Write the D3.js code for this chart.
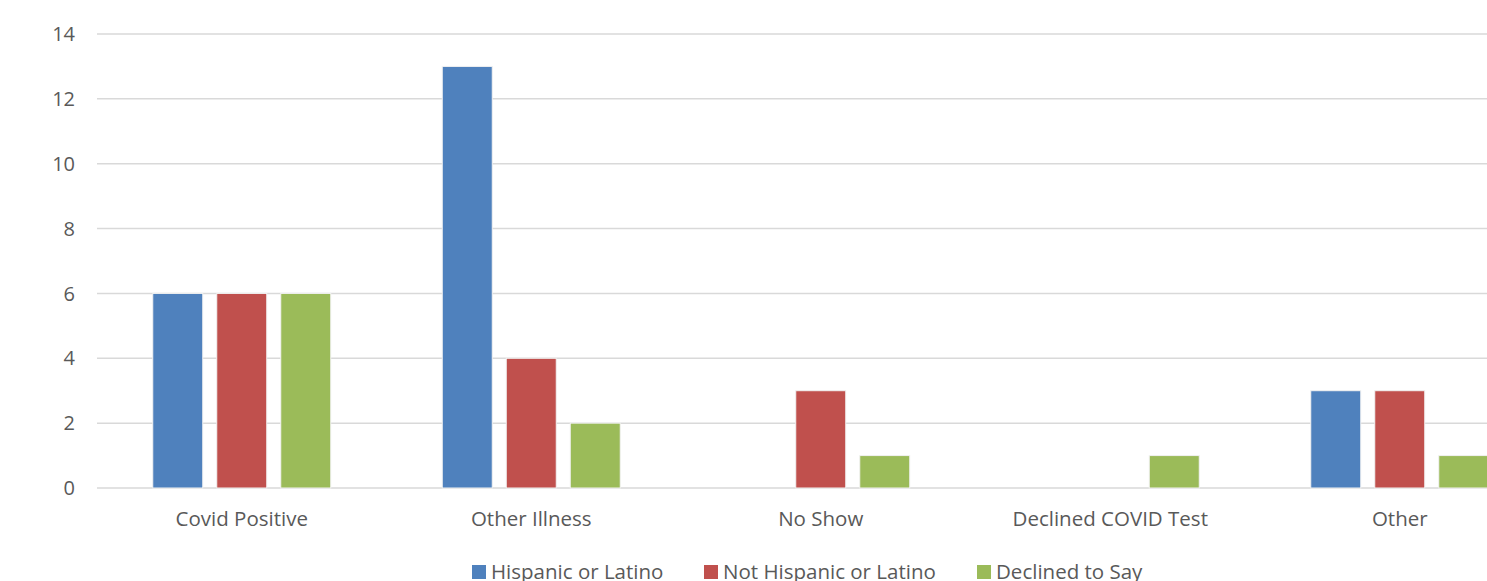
<!DOCTYPE html>
<html>
<head>
<meta charset="utf-8">
<script src="https://cdn.jsdelivr.net/npm/d3@7"></script>
<style>
  body { margin: 0; background: #fff; }
  text { font-family: "Open Sans", "Noto Sans", sans-serif; fill: #595959; }
</style>
</head>
<body>
<div id="chart"></div>
<script>
// chart values
var categories = ["Covid Positive", "Other Illness", "No Show", "Declined COVID Test", "Other"];
var seriesNames = ["Hispanic or Latino", "Not Hispanic or Latino", "Declined to Say"];
var hispanic = [6, 13, 0, 0, 3];
var notHispanic = [6, 4, 3, 0, 3];
var declined = [6, 2, 1, 1, 1];
var yTicks = [0, 2, 4, 6, 8, 10, 12, 14];
var colors = ["#4F81BD", "#C0504D", "#9BBB59"];

var width = 1487, height = 581;
var plotLeft = 97, plotTop = 34, plotBottom = 488;
var bandStep = 289.5;

var data = categories.map(function (c, i) {
    return { cat: c, values: [hispanic[i], notHispanic[i], declined[i]] };
});

var svg = d3.select("#chart").append("svg")
    .attr("width", width)
    .attr("height", height);

var x0 = d3.scaleBand()
    .domain(categories)
    .range([plotLeft, plotLeft + bandStep * categories.length])
    .padding(0);

var groupW = 178;
var x1 = d3.scaleBand()
    .domain(d3.range(seriesNames.length))
    .range([0, groupW])
    .paddingInner(0.21875)
    .paddingOuter(0);

var y = d3.scaleLinear()
    .domain([0, 14])
    .range([plotBottom, plotTop]);

// gridlines
svg.append("g").selectAll("line")
    .data(yTicks)
    .enter().append("line")
    .attr("x1", plotLeft)
    .attr("x2", width)
    .attr("y1", function (d) { return y(d); })
    .attr("y2", function (d) { return y(d); })
    .attr("stroke", "#d9d9d9")
    .attr("stroke-width", 1.5);

// y labels
svg.append("g").selectAll("text")
    .data(yTicks)
    .enter().append("text")
    .attr("x", 75)
    .attr("y", function (d) { return y(d); })
    .attr("dy", "0.36em")
    .attr("text-anchor", "end")
    .attr("font-size", 20)
    .text(function (d) { return d; });

// bars
var group = svg.append("g").selectAll("g")
    .data(data)
    .enter().append("g")
    .attr("transform", function (d) {
        return "translate(" + (x0(d.cat) + (x0.bandwidth() - groupW) / 2) + ",0)";
    });

group.selectAll("rect")
    .data(function (d) { return d.values.map(function (v, i) { return { v: v, i: i }; }); })
    .enter()
    .filter(function (d) { return d.v > 0; })
    .append("rect")
    .attr("x", function (d) { return x1(d.i); })
    .attr("width", x1.bandwidth())
    .attr("y", function (d) { return y(d.v); })
    .attr("height", function (d) { return y(0) - y(d.v); })
    .attr("fill", function (d) { return colors[d.i]; })
    .attr("stroke", "#f2f2f2")
    .attr("stroke-width", 1);

// category labels
svg.append("g").selectAll("text")
    .data(categories)
    .enter().append("text")
    .attr("x", function (d) { return x0(d) + x0.bandwidth() / 2; })
    .attr("y", 526)
    .attr("text-anchor", "middle")
    .attr("font-size", 20.5)
    .text(function (d) { return d; });

// legend
var legendX = [472, 704, 977];
var legend = svg.append("g").selectAll("g")
    .data(seriesNames)
    .enter().append("g")
    .attr("transform", function (d, i) { return "translate(" + legendX[i] + ",565)"; });

legend.append("rect")
    .attr("width", 14)
    .attr("height", 14)
    .attr("fill", function (d, i) { return colors[i]; });

legend.append("text")
    .attr("x", 19)
    .attr("y", 14)
    .attr("font-size", 20.5)
    .text(function (d) { return d; });
</script>
</body>
</html>
